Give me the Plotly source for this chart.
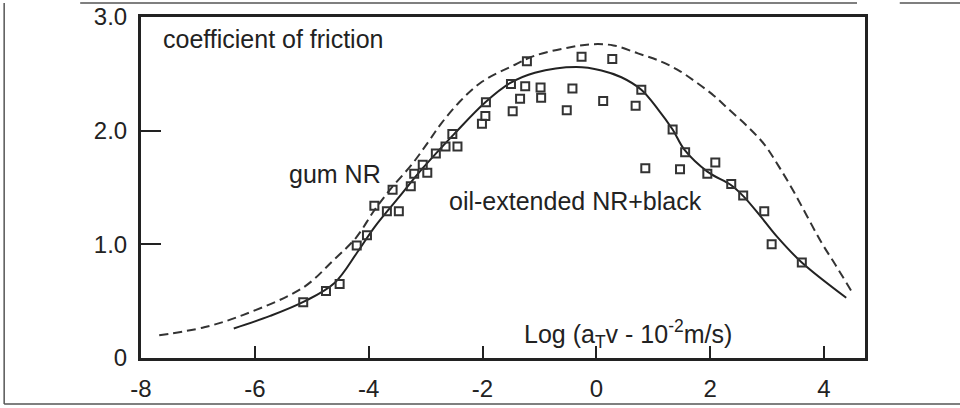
import plotly.graph_objects as go

# Measured data points (open squares)
pts_x = [-5.15, -4.75, -4.51, -4.21, -4.03, -3.90, -3.68, -3.47, -3.58, -3.26,
         -3.20, -3.05, -2.97, -2.82, -2.65, -2.44, -2.53, -2.01, -1.95, -1.94,
         -1.47, -1.50, -1.34, -1.25, -1.22, -0.98, -0.97, -0.52, -0.42, -0.26,
         0.12, 0.28, 0.69, 0.79, 1.34, 1.56, 0.86, 1.47, 2.09, 1.95,
         2.37, 2.58, 2.95, 3.08, 3.61]
pts_y = [0.49, 0.59, 0.65, 0.99, 1.08, 1.34, 1.29, 1.29, 1.48, 1.51,
         1.62, 1.70, 1.63, 1.80, 1.86, 1.86, 1.97, 2.06, 2.13, 2.25,
         2.17, 2.41, 2.28, 2.39, 2.61, 2.38, 2.29, 2.18, 2.37, 2.65,
         2.26, 2.63, 2.22, 2.36, 2.01, 1.81, 1.67, 1.66, 1.72, 1.62,
         1.53, 1.43, 1.29, 1.00, 0.84]

# Solid master curve
solid_x = [-6.37, -5.73, -5.12, -4.60, -4.20, -3.90, -3.46, -3.05, -2.50, -1.95,
           -1.51, -1.08, -0.35, 0.09, 0.44, 0.79, 1.08, 1.34, 1.55, 1.95,
           2.37, 2.59, 2.88, 3.17, 3.61, 4.39]
solid_y = [0.26, 0.37, 0.50, 0.66, 0.93, 1.15, 1.42, 1.67, 1.97, 2.25,
           2.42, 2.51, 2.56, 2.53, 2.47, 2.36, 2.19, 2.01, 1.83, 1.64,
           1.52, 1.42, 1.25, 1.07, 0.84, 0.53]

# Dashed master curve
dash_x = [-7.68, -6.89, -6.20, -5.15, -4.62, -4.22, -3.90, -3.61, -3.23, -2.94,
          -2.73, -2.41, -2.01, -1.43, -1.08, -0.50, -0.09, 0.30, 0.73, 1.13,
          1.48, 1.77, 2.06, 2.30, 2.65, 2.95, 3.20, 3.45, 3.70, 3.95,
          4.20, 4.48]
dash_y = [0.20, 0.27, 0.38, 0.62, 0.86, 1.06, 1.30, 1.49, 1.71, 1.91,
          2.06, 2.25, 2.43, 2.58, 2.66, 2.73, 2.76, 2.75, 2.68, 2.61,
          2.52, 2.42, 2.31, 2.20, 2.04, 1.88, 1.69, 1.48, 1.25, 1.02,
          0.82, 0.59]

x_ticks = [-8, -6, -4, -2, 0, 2, 4]
x_tick_text = ["-8", "-6", "-4", "-2", "0", "2", "4"]
y_ticks = [0, 1, 2, 3]
y_tick_text = ["0", "1.0", "2.0", "3.0"]

INK = "#222222"
FONT = "Liberation Sans, Arial, sans-serif"

fig = go.Figure()
fig.add_trace(go.Scatter(x=dash_x, y=dash_y, mode="lines", line_shape="spline",
                         line=dict(color="#333333", width=2, dash="9px,5px"),
                         showlegend=False, hoverinfo="skip"))
fig.add_trace(go.Scatter(x=solid_x, y=solid_y, mode="lines", line_shape="spline",
                         line=dict(color=INK, width=2),
                         showlegend=False, hoverinfo="skip"))
fig.add_trace(go.Scatter(x=pts_x, y=pts_y, mode="markers",
                         marker=dict(symbol="square-open", size=8,
                                     color="#333333", line=dict(width=2, color="#333333")),
                         showlegend=False))

ann_font = dict(family=FONT, size=25, color=INK)
fig.add_annotation(x=-7.64, y=2.81, text="coefficient of friction", showarrow=False,
                   xanchor="left", yanchor="middle", font=ann_font)
fig.add_annotation(x=-5.44, y=1.62, text="gum NR", showarrow=False,
                   xanchor="left", yanchor="middle", font=ann_font)
fig.add_annotation(x=-2.62, y=1.38, text="oil-extended NR+black", showarrow=False,
                   xanchor="left", yanchor="middle", font=ann_font)
fig.add_annotation(x=0.55, y=0.21, text="Log (a<sub>T</sub>v - 10<sup>-2</sup>m/s)",
                   showarrow=False, xanchor="center", yanchor="middle",
                   font=dict(family=FONT, size=25, color=INK))

# outer thin frame of the original figure
frame = dict(color="#555555", width=1.5)
fig.add_shape(type="line", xref="paper", yref="paper", x0=-0.084, x1=0.989, y0=1.041, y1=1.041, line=frame)
fig.add_shape(type="line", xref="paper", yref="paper", x0=1.048, x1=1.14, y0=1.041, y1=1.041, line=frame)
fig.add_shape(type="line", xref="paper", yref="paper", x0=-0.189, x1=-0.189, y0=1.041, y1=-0.135, line=frame)
fig.add_shape(type="line", xref="paper", yref="paper", x0=-0.189, x1=1.14, y0=-0.135, y1=-0.135, line=frame)

fig.update_layout(
    width=960, height=408,
    margin=dict(l=141, r=95, t=17, b=50, autoexpand=False),
    paper_bgcolor="white", plot_bgcolor="white",
    font=dict(family=FONT, size=24, color=INK),
    showlegend=False,
)
fig.update_xaxes(range=[-8, 4.72], tickvals=x_ticks, ticktext=x_tick_text,
                 ticks="inside", ticklen=12, tickwidth=2, tickcolor=INK,
                 showline=True, mirror=True, linewidth=3, linecolor=INK,
                 showgrid=False, zeroline=False, ticklabelstandoff=7,
                 automargin=False,
                 tickfont=dict(family=FONT, size=24, color=INK))
fig.update_yaxes(range=[0, 3.0], tickvals=y_ticks, ticktext=y_tick_text,
                 ticks="inside", ticklen=20, tickwidth=2, tickcolor=INK,
                 showline=True, mirror=True, linewidth=3, linecolor=INK,
                 showgrid=False, zeroline=False, ticklabelstandoff=6,
                 automargin=False,
                 tickfont=dict(family=FONT, size=24, color=INK))

fig.write_html("out.html",
               config={"displayModeBar": False},
               post_script="document.body.style.margin='0';document.body.style.overflow='hidden';")
